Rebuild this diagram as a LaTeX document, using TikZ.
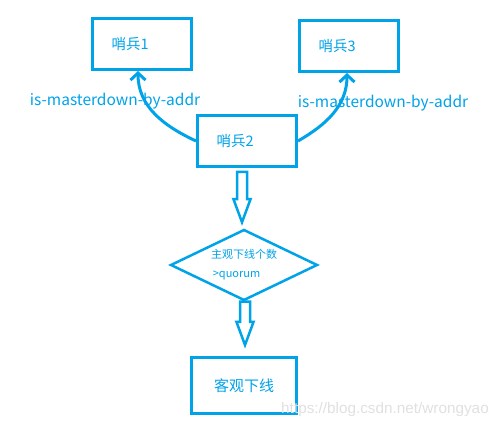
\documentclass[tikz,border=0pt]{standalone}
\usepackage{fontspec}
\setmainfont{Noto Sans CJK SC}
\newfontfamily\markfont{Liberation Sans}
\usetikzlibrary{shapes.geometric, arrows.meta, calc}
\definecolor{paintblue}{RGB}{0,162,232}

% hollow block arrow pointing down from #1 to #2
\newcommand{\fatarrow}[2]{%
  \draw[fat] let \p1=#1, \p2=#2 in
    (\x1-5,\y1) -- (\x1-5,\y2+23) -- (\x1-8.5,\y2+23) -- (\x1,\y2)
    -- (\x1+8.5,\y2+23) -- (\x1+5,\y2+23) -- (\x1+5,\y1) -- cycle;}

\begin{document}
\begin{tikzpicture}[x=1pt, y=1pt,
    every node/.style={text=paintblue},
    box/.style={draw=paintblue, line width=3pt, minimum width=99pt, minimum height=51pt,
        text width=61pt, inner xsep=19pt, align=left, font=\fontsize{14.5}{16}\selectfont},
    lbl/.style={font=\fontsize{15.5}{17}\selectfont, inner sep=0pt},
    link/.style={draw=paintblue, line width=3pt, -{Straight Barb[length=7pt, width=15pt]}},
    fat/.style={draw=paintblue, line width=2.5pt}]
    \useasboundingbox (0,0) rectangle (502,430);

    \node[box] (s1) at (142,386) {哨兵1};
    \node[box] (s3) at (349,384) {哨兵3};
    \node[box] (s2) at (247,289) {哨兵2};

    \node[lbl] (l1) at (115,329) {is-masterdown-by-addr};
    \node[lbl] (l3) at (383,327) {is-masterdown-by-addr};

    \draw[link] (s2.west) to[out=155, in=-90] ([xshift=-4pt]s1.south);
    \draw[link] (s2.east) to[out=30, in=-90] ([xshift=-2pt]s3.south);

    \node[diamond, draw=paintblue, line width=2.5pt, aspect=2, inner sep=0pt,
        minimum width=147pt, minimum height=71pt, align=left,
        font=\fontsize{11}{19}\selectfont] (vote) at (244,165) {主观下线个数\\ \,>quorum};

    \node[box, minimum width=105pt, minimum height=56pt, text width=, inner xsep=4pt,
        align=center, font=\fontsize{15}{17}\selectfont] (down) at (244,44.5) {客观下线};

    \fatarrow{([xshift=-5pt, yshift=-4pt]s2.south)}{([yshift=6pt]vote.north)}
    \fatarrow{([xshift=1pt]vote.south)}{([yshift=11pt]down.north)}

    \node[text=black!12, font=\markfont\fontsize{15.3}{17}\selectfont] (mark) at (385,20)
        {https://blog.csdn.net/wrongyao};
\end{tikzpicture}
\end{document}
